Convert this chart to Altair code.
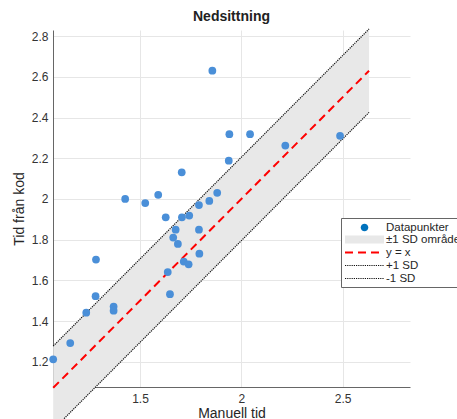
import altair as alt
import pandas as pd

# ---- data ----
manual_time = [1.072, 1.156, 1.235, 1.281, 1.283, 1.370, 1.370, 1.427, 1.526, 1.590,
               1.627, 1.637, 1.648, 1.664, 1.676, 1.687, 1.706, 1.707, 1.716, 1.740,
               1.743, 1.791, 1.791, 1.793, 1.842, 1.857, 1.881, 1.938, 1.941, 2.043,
               2.217, 2.487]
code_time = [1.212, 1.292, 1.441, 1.522, 1.702, 1.471, 1.451, 2.000, 1.980, 2.020,
             1.910, 1.641, 1.532, 1.810, 1.849, 1.779, 2.131, 1.910, 1.692, 1.679,
             1.918, 1.970, 1.849, 1.731, 1.990, 2.630, 2.030, 2.188, 2.318, 2.318,
             2.262, 2.310]
sd = 0.205
x_ticks = [1.5, 2, 2.5]
y_ticks = [1.2, 1.4, 1.6, 1.8, 2.0, 2.2, 2.4, 2.6, 2.8]
legend_labels = ["Datapunkter", "±1 SD område", "y = x", "+1 SD", "-1 SD"]

lo_all = min(min(manual_time), min(code_time))
hi_all = max(max(manual_time), max(code_time))
line_x = [lo_all, hi_all]

pts = pd.DataFrame({"manual": manual_time, "code": code_time})
ref = pd.DataFrame({"x": line_x})
leg = pd.DataFrame({"series": legend_labels})

FONT = "Liberation Sans"
xs = alt.Scale(domain=[1.071, 2.832], nice=False, zero=False)
ys = alt.Scale(domain=[1.076, 2.83], nice=False, zero=False)

xaxis = alt.Axis(values=x_ticks, format="~g", title="Manuell tid", grid=True,
                 gridColor="#e6e6e6", ticks=False, labelPadding=6, titlePadding=2,
                 domainColor="#666666", labelFontSize=12, titleFontSize=14,
                 titleFontWeight="normal", labelFont=FONT, titleFont=FONT,
                 labelColor="#333333", titleColor="#262626")
yaxis = alt.Axis(values=y_ticks, format="~g", title="Tid från kod", grid=True,
                 gridColor="#e6e6e6", ticks=False, labelPadding=5, titlePadding=5,
                 domainColor="#666666", labelFontSize=12, titleFontSize=14,
                 titleFontWeight="normal", labelFont=FONT, titleFont=FONT,
                 labelColor="#333333", titleColor="#262626")

base_ref = alt.Chart(ref).transform_calculate(
    lo=f"datum.x - {sd}", hi=f"datum.x + {sd}")

band = base_ref.mark_area(color="#e8e8e8", opacity=1).encode(
    x=alt.X("x:Q", scale=xs, axis=xaxis),
    y=alt.Y("lo:Q", scale=ys, axis=yaxis),
    y2="hi:Q")

sd_style = dict(color="#111111", strokeDash=[1.2, 1], strokeWidth=1.2)
upper = base_ref.mark_line(**sd_style).encode(
    x=alt.X("x:Q", scale=xs, axis=xaxis),
    y=alt.Y("hi:Q", scale=ys, axis=yaxis))

lower = base_ref.mark_line(**sd_style).encode(
    x=alt.X("x:Q", scale=xs, axis=xaxis),
    y=alt.Y("lo:Q", scale=ys, axis=yaxis))

ident = base_ref.mark_line(color="#ff0000", strokeDash=[8, 5], strokeWidth=2).encode(
    x=alt.X("x:Q", scale=xs, axis=xaxis),
    y=alt.Y("x:Q", scale=ys, axis=yaxis))

points = alt.Chart(pts).mark_circle(size=60, color="#4a8fd8", opacity=1).encode(
    x=alt.X("manual:Q", scale=xs, axis=xaxis),
    y=alt.Y("code:Q", scale=ys, axis=yaxis))

L = alt.Legend(title=None, orient="none", legendX=288, legendY=188,
               strokeColor="#666666", fillColor="#ffffff", padding=3,
               rowPadding=0, labelOffset=27, labelFontSize=11.5, labelFont=FONT,
               labelColor="#262626", symbolOpacity=1, labelLimit=300,
               symbolSize=169)

# legend symbol shapes (unit = half of the symbol size)
circle_path = "M2.58,0A0.58,0.58 0 1,1 1.42,0A0.58,0.58 0 1,1 2.58,0Z"
rect_path = "M-1,-0.62H5V0.62H-1Z"
line_path = "M-1,0H5"

legend_layer = alt.Chart(leg).transform_filter("false").mark_point().encode(
    fill=alt.Fill("series:N", legend=L, scale=alt.Scale(
        domain=legend_labels,
        range=["#0072BD", "#e8e8e8", "transparent", "transparent", "transparent"])),
    stroke=alt.Stroke("series:N", legend=L, scale=alt.Scale(
        domain=legend_labels,
        range=["#0072BD", "#e8e8e8", "#ff0000", "#111111", "#111111"])),
    shape=alt.Shape("series:N", legend=L, scale=alt.Scale(
        domain=legend_labels,
        range=[circle_path, rect_path, line_path, line_path, line_path])),
    strokeDash=alt.StrokeDash("series:N", legend=L, scale=alt.Scale(
        domain=legend_labels,
        range=[[1, 0], [1, 0], [8, 5], [1.2, 1], [1.2, 1]])),
    strokeWidth=alt.StrokeWidth("series:N", legend=L, scale=alt.Scale(
        type="ordinal", domain=legend_labels,
        range=[0, 0, 2, 1.2, 1.2])),
)

chart = alt.layer(band, upper, lower, ident, points, legend_layer).properties(
    width=357, height=357,
    title=alt.TitleParams("Nedsittning", fontSize=14, fontWeight="bold", font=FONT,
                          color="#222222", anchor="middle", offset=3),
    autosize=alt.AutoSizeParams(type="none"),
    padding={"left": 53, "top": 30, "right": 47, "bottom": 32},
).configure_view(stroke=None)

chart.save("out.html", embed_options={"renderer": "svg", "actions": False})
